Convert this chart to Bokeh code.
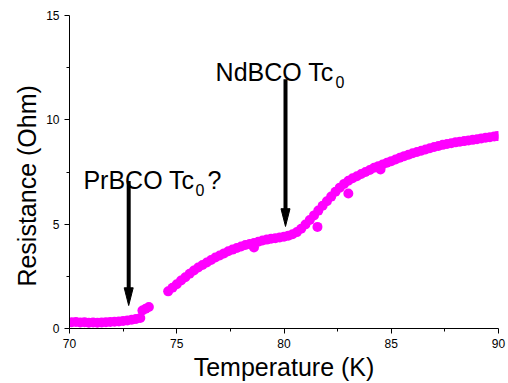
from bokeh.plotting import figure
from bokeh.models import Range1d, FixedTicker
from bokeh.core.properties import value
from bokeh.embed import file_html
from bokeh.resources import INLINE

# Resistance vs temperature measurement
temp_k = [
    70.1, 70.3, 70.5, 70.7, 70.9, 71.1, 71.3, 71.5, 71.7, 71.9, 72.1, 72.3,
    72.5, 72.7, 72.9, 73.1, 73.3,
    73.40, 73.55, 73.70,
    74.6, 74.8, 75.0, 75.2, 75.4, 75.6, 75.8, 76.0, 76.2, 76.4, 76.6, 76.8,
    77.0, 77.2, 77.4, 77.6, 77.8, 78.0, 78.2, 78.4, 78.6, 78.8, 79.0, 79.2,
    79.4, 79.6, 79.8, 80.0, 80.2, 80.4, 80.6, 80.8, 81.0, 81.2, 81.4, 81.6,
    81.8, 82.0, 82.2, 82.4, 82.6, 82.8, 83.0, 83.2, 83.4, 83.6, 83.8, 84.0,
    84.2, 84.4, 84.6, 84.8, 85.0, 85.2, 85.4, 85.6, 85.8, 86.0, 86.2, 86.4,
    86.6, 86.8, 87.0, 87.2, 87.4, 87.6, 87.8, 88.0, 88.2, 88.4, 88.6, 88.8,
    89.0, 89.2, 89.4, 89.6, 89.8, 89.95,
    78.6, 81.56, 83.0, 84.5,
]
resistance_ohm = [
    0.30, 0.31, 0.29, 0.30, 0.28, 0.29, 0.28, 0.29, 0.30, 0.31, 0.32, 0.34,
    0.36, 0.38, 0.42, 0.46, 0.50,
    0.86, 0.95, 1.03,
    1.78, 1.95, 2.12, 2.30, 2.46, 2.62, 2.78, 2.92, 3.04, 3.16, 3.28, 3.40,
    3.50, 3.60, 3.70, 3.78, 3.86, 3.93, 4.00, 4.05, 4.10, 4.16, 4.22, 4.26,
    4.30, 4.33, 4.36, 4.40, 4.45, 4.52, 4.62, 4.78, 4.98, 5.20, 5.42, 5.65,
    5.88, 6.10, 6.32, 6.55, 6.75, 6.93, 7.08, 7.20, 7.30, 7.40, 7.50, 7.60,
    7.70, 7.78, 7.86, 7.94, 8.02, 8.10, 8.18, 8.26, 8.33, 8.40, 8.46, 8.52,
    8.58, 8.64, 8.70, 8.75, 8.80, 8.84, 8.88, 8.92, 8.95, 8.98, 9.01, 9.04,
    9.07, 9.11, 9.14, 9.17, 9.20, 9.22,
    3.88, 4.87, 6.47, 7.62,
]

x_ticks = [70, 75, 80, 85, 90]
y_ticks = [0, 5, 10, 15]

# Arrow annotations: (x, top of shaft, tip)
arrow_x = [72.76, 80.07]
arrow_top = [7.07, 11.94]
arrow_tip = [1.10, 4.89]

FONT = "Liberation Sans"

p = figure(
    width=508, height=383,
    x_range=Range1d(70, 90), y_range=Range1d(0, 15),
    output_backend="svg", toolbar_location=None,
    min_border_left=69, min_border_right=10,
    min_border_top=15, min_border_bottom=54,
)
p.outline_line_color = None
p.grid.visible = False
p.background_fill_color = "white"
p.border_fill_color = "white"

for ax, ticks in ((p.xaxis[0], x_ticks), (p.yaxis[0], y_ticks)):
    ax.ticker = FixedTicker(
        ticks=ticks,
        minor_ticks=[t + 2.5 for t in ticks[:-1]],
    )
    ax.axis_line_color = "black"
    ax.major_tick_line_color = "black"
    ax.minor_tick_line_color = "black"
    ax.major_tick_in = 0
    ax.major_tick_out = 5
    ax.minor_tick_in = 0
    ax.minor_tick_out = 3
    ax.major_label_text_font = FONT
    ax.major_label_text_font_size = "12px"
    ax.major_label_text_color = "black"
    ax.major_label_standoff = 5
    ax.axis_label_text_font = FONT
    ax.axis_label_text_font_size = "25px"
    ax.axis_label_text_font_style = "normal"
    ax.axis_label_text_color = "black"
    ax.axis_label_standoff = 2

p.xaxis.axis_label = "Temperature (K)"
# trailing no-break spaces nudge the centred title a little lower
p.yaxis.axis_label = "Resistance (Ohm)\u00a0\u00a0\u00a0\u00a0"

p.scatter(temp_k, resistance_ohm, size=10, color="#ff00ff", line_color=None)

# Arrows: thick shaft plus a slender filled head
head_half_w = 0.21
head_len = 0.85
p.segment(x0=arrow_x, y0=arrow_top, x1=arrow_x,
          y1=[t + head_len * 0.8 for t in arrow_tip],
          line_color="black", line_width=4)
p.patches(
    xs=[[x - head_half_w, x + head_half_w, x] for x in arrow_x],
    ys=[[t + head_len, t + head_len, t] for t in arrow_tip],
    fill_color="black", line_color="black", line_width=1,
)

# Annotation texts
p.text(x=[70.65, 76.81], y=[7.12, 12.28], text=["PrBCO Tc", "NdBCO Tc"],
       text_font=value(FONT), text_font_size="25px", text_color="black",
       text_align="left", text_baseline="alphabetic")
p.text(x=[75.87, 82.40], y=[6.64, 11.80], text=["0", "0"],
       text_font=value(FONT), text_font_size="16px", text_color="black",
       text_align="left", text_baseline="alphabetic")
p.text(x=[76.43], y=[7.12], text=["?"],
       text_font=value(FONT), text_font_size="25px", text_color="black",
       text_align="left", text_baseline="alphabetic")

open("out.html", "w").write(file_html(p, INLINE))
